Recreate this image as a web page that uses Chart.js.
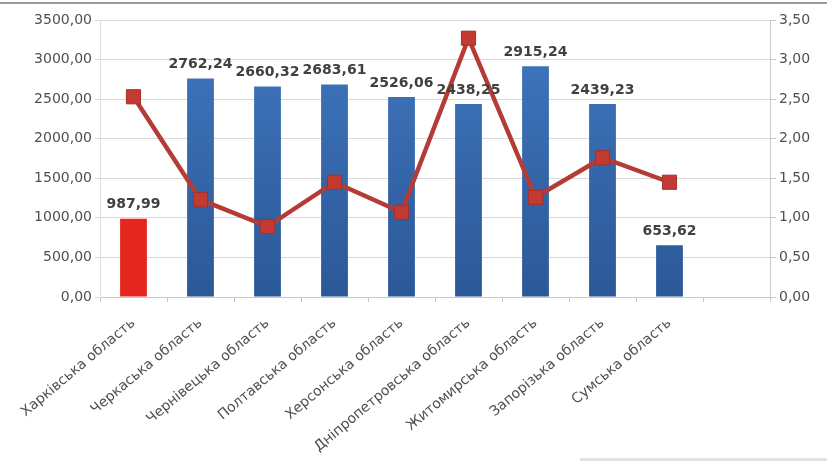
<!DOCTYPE html>
<html>
<head>
<meta charset="utf-8">
<script src="https://cdn.jsdelivr.net/npm/chart.js@4/dist/chart.umd.min.js"></script>
<style>
  html, body { margin: 0; padding: 0; background: #fff; }
  #wrap { position: relative; width: 827px; height: 461px; }
  #topline { position: absolute; left: 0; top: 2px; width: 827px; height: 2px; background: #9a9a9a; }
  #botline { position: absolute; left: 580px; top: 458px; width: 247px; height: 3px; background: #e2e2e2; }
</style>
</head>
<body>
<div id="wrap">
  <canvas id="chart" width="827" height="461"></canvas>
  <div id="topline"></div>
  <div id="botline"></div>
</div>
<script>
window.addEventListener("load", init);

let regions = ["Харківська область", "Черкаська область", "Чернівецька область", "Полтавська область",
  "Херсонська область", "Дніпропетровська область", "Житомирська область", "Запорізька область",
  "Сумська область", ""];
let barValues = [987.99, 2762.24, 2660.32, 2683.61, 2526.06, 2438.25, 2915.24, 2439.23, 653.62, null];
let lineValues = [2.53, 1.23, 0.89, 1.45, 1.07, 3.27, 1.26, 1.76, 1.45, null];

function fmt(v) {
  return Number(v).toFixed(2).replace(".", ",");
}

function barColor(context) {
  if(context.dataIndex === 0) {
    return "#e5261e";
  }
  let area = context.chart.chartArea;
  if(!area) {
    return "#3a6db5";
  }
  let g = context.chart.ctx.createLinearGradient(0, area.top, 0, area.bottom);
  g.addColorStop(0, "#4177c0");
  g.addColorStop(1, "#2b5897");
  return g;
}

// value labels above bars
let barLabels = {
  id: "barLabels",
  afterDatasetsDraw(chart) {
    let ctx = chart.ctx;
    let meta = chart.getDatasetMeta(0);
    ctx.save();
    ctx.font = "bold 14px 'DejaVu Sans'";
    ctx.fillStyle = "#404040";
    ctx.textAlign = "center";
    ctx.textBaseline = "bottom";
    meta.data.forEach((bar, i) => {
      if(barValues[i] == null) return;
      ctx.fillText(fmt(barValues[i]), bar.x, bar.y - 7);
    });
    ctx.restore();
  }
};

function init() {
  let ctx = document.querySelector("#chart").getContext("2d");
  new Chart(ctx, {
    type: "bar",
    data: {
      labels: regions,
      datasets: [
        {
          label: "bars",
          data: barValues,
          backgroundColor: barColor,
          barPercentage: 0.4,
          categoryPercentage: 1,
          yAxisID: "y",
          order: 1
        },
        {
          type: "line",
          label: "line",
          data: lineValues,
          borderColor: "#b53c36",
          borderWidth: 4.5,
          pointStyle: "rect",
          pointRadius: 10,
          pointBackgroundColor: "#c23a32",
          pointBorderColor: "#a5302a",
          pointBorderWidth: 1,
          yAxisID: "y1",
          order: 0
        }
      ]
    },
    options: {
      responsive: false,
      animation: false,
      events: [],
      layout: { padding: { top: 20, left: 0, right: 0, bottom: 0 } },
      plugins: {
        legend: { display: false },
        tooltip: { enabled: false }
      },
      scales: {
        x: {
          grid: { drawOnChartArea: false, drawTicks: true, tickLength: 5, color: "#c8c8c8" },
          border: { color: "#c8c8c8" },
          ticks: {
            minRotation: 40,
            maxRotation: 40,
            autoSkip: false,
            padding: 13,
            color: "#505050",
            font: { family: "'DejaVu Sans'", size: 14 }
          },
          afterFit(scale) { scale.height = 164; }
        },
        y: {
          position: "left",
          min: 0,
          max: 3500,
          ticks: {
            stepSize: 500,
            color: "#505050",
            font: { family: "'DejaVu Sans'", size: 14 },
            callback: (v) => fmt(v)
          },
          grid: { color: "#d9d9d9", tickLength: 5 },
          border: { color: "#e0e0e0" },
          afterFit(scale) { scale.width = 100; }
        },
        y1: {
          position: "right",
          min: 0,
          max: 3.5,
          ticks: {
            stepSize: 0.5,
            color: "#505050",
            font: { family: "'DejaVu Sans'", size: 14 },
            callback: (v) => fmt(v)
          },
          grid: { drawOnChartArea: false, tickLength: 6, color: "#c8c8c8" },
          border: { color: "#c8c8c8" },
          afterFit(scale) { scale.width = 57; }
        }
      }
    },
    plugins: [barLabels]
  });
}
</script>
</body>
</html>
